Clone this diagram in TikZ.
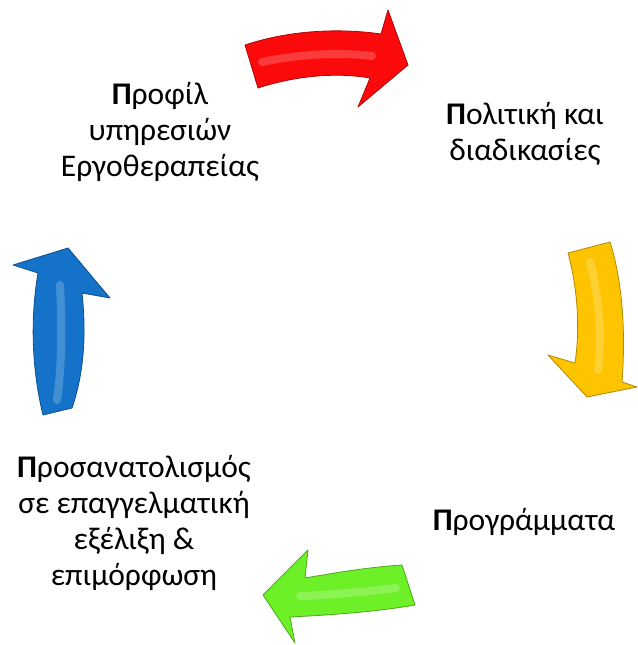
\documentclass[tikz,border=0pt]{standalone}
\usepackage{fontspec}
\setmainfont{Carlito}
\definecolor{redarrow}{RGB}{250,10,10}
\definecolor{yellowarrow}{RGB}{255,196,0}
\definecolor{greenarrow}{RGB}{110,240,40}
\definecolor{bluearrow}{RGB}{20,115,200}
\tikzset{
  arrowbody/.style={fill=#1, draw=#1!70!black, line width=0.8pt, line join=round},
  arrowshine/.style={draw=#1!55!white, line width=8pt, line cap=round, opacity=0.45},
  steplabel/.style={align=center, font=\fontsize{31.5}{36}\selectfont, text=black}
}
\begin{document}
\begin{tikzpicture}[x=1pt, y=-1pt]
    \useasboundingbox (0,0) rectangle (637,645);

    % red arrow (top)
    \fill[arrowbody=redarrow] (245,45) .. controls (290,30) and (340,28) .. (381,34)
        -- (388,10) -- (408,65) -- (358,107) -- (370,78)
        .. controls (335,72) and (295,76) .. (258,88) -- cycle;
    \draw[arrowshine=redarrow] (262,62) .. controls (300,54) and (340,52) .. (372,56);

    % yellow arrow (right)
    \fill[arrowbody=yellowarrow] (568,253) -- (610,242) .. controls (622,280) and (626,330) .. (622,382)
        -- (637,387) -- (587,397) -- (548,355) -- (575,363)
        .. controls (580,330) and (578,290) .. (568,253) -- cycle;
    \draw[arrowshine=yellowarrow] (590,262) .. controls (600,300) and (602,340) .. (598,370);

    % green arrow (bottom)
    \fill[arrowbody=greenarrow] (402,565) -- (415,605) .. controls (375,612) and (330,615) .. (290,617)
        -- (295,643) -- (263,595) -- (308,550) -- (305,578)
        .. controls (340,572) and (370,567) .. (402,565) -- cycle;
    \draw[arrowshine=greenarrow] (396,588) .. controls (365,592) and (330,595) .. (300,596);

    % blue arrow (left)
    \fill[arrowbody=bluearrow] (43,415) -- (72,408) .. controls (85,370) and (86,330) .. (82,293)
        -- (110,298) -- (68,248) -- (13,265) -- (38,273)
        .. controls (30,320) and (32,370) .. (43,415) -- cycle;
    \draw[arrowshine=bluearrow] (57,400) .. controls (62,365) and (62,325) .. (60,285);

    % labels
    \node[steplabel] (profile) at (160,132) {\textbf{Π}ροφίλ\\υπηρεσιών\\Εργοθεραπείας};
    \node[steplabel] (policy) at (525,134) {\textbf{Π}ολιτική και\\διαδικασίες};
    \node[steplabel] (programs) at (524,522) {\textbf{Π}ρογράμματα};
    \node[steplabel] (career) at (134,523) {\textbf{Π}ροσανατολισμός\\σε επαγγελματική\\εξέλιξη \&\\επιμόρφωση};
\end{tikzpicture}
\end{document}
